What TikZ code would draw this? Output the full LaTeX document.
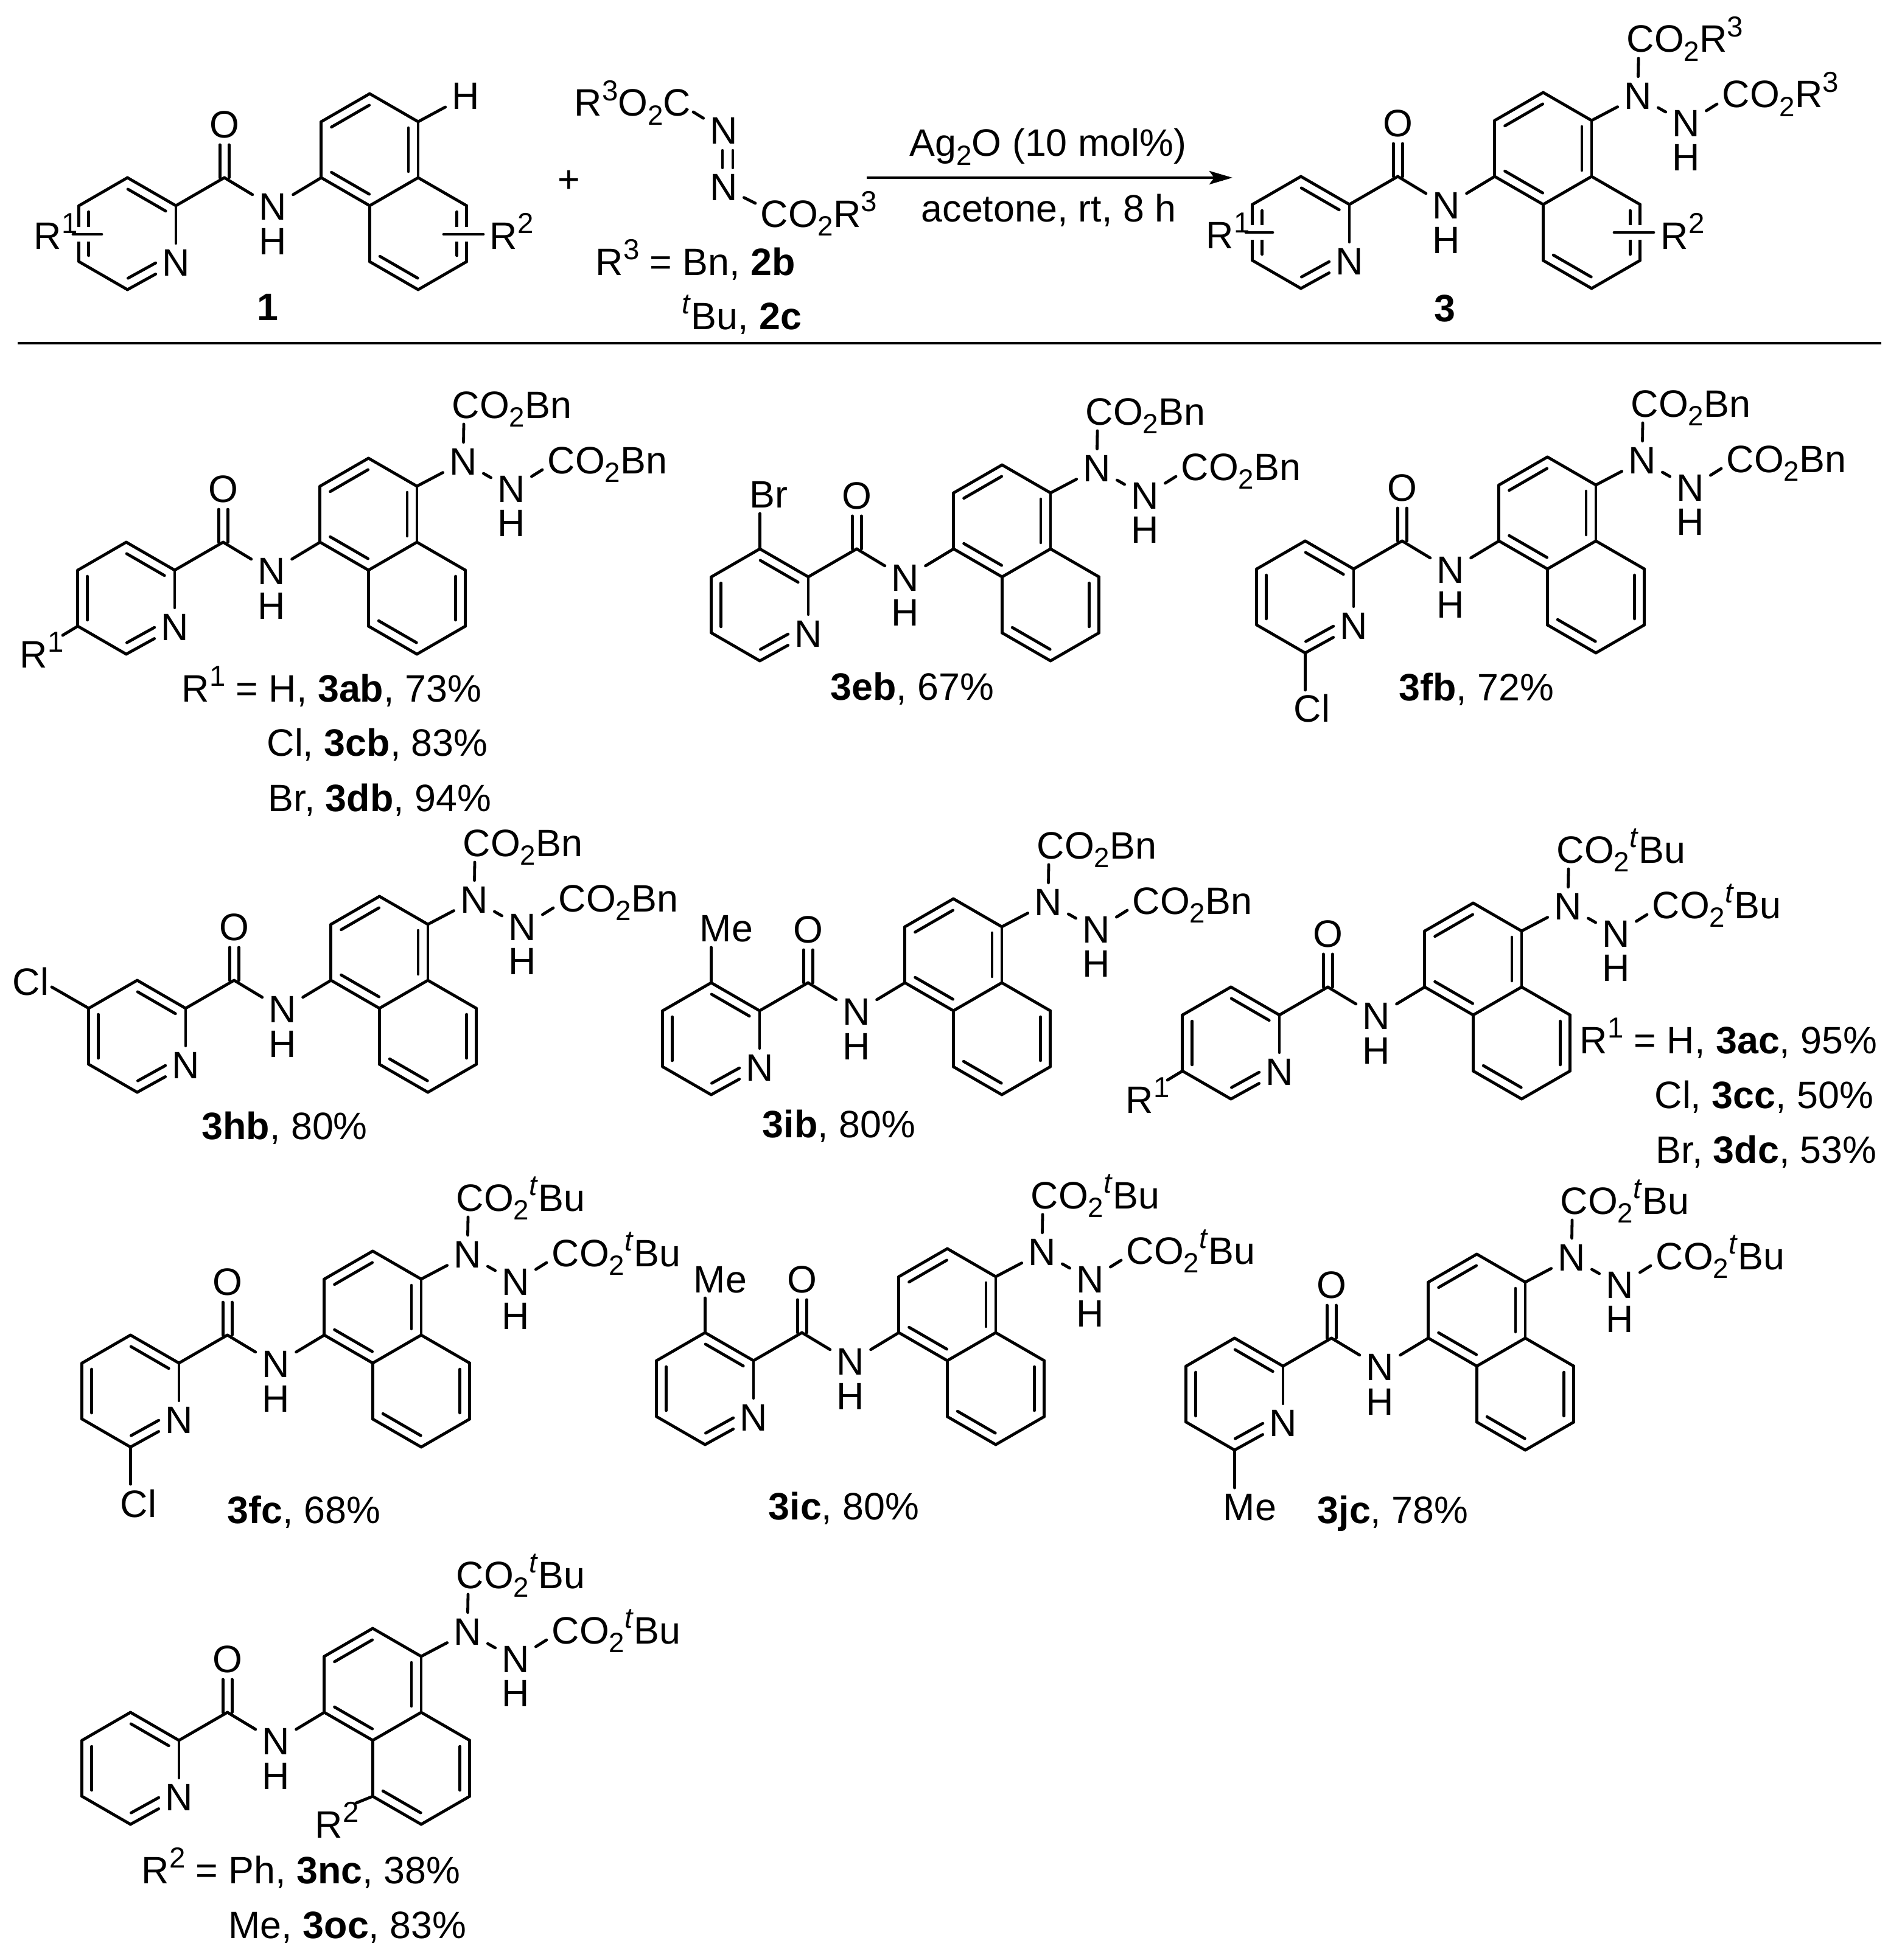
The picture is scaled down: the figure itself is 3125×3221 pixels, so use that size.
\documentclass[tikz,border=0pt]{standalone}
\usepackage{fontspec}
\usepackage{tikz}
\usetikzlibrary{calc,arrows.meta}
\setmainfont{Liberation Sans}

\newcommand{\lowr}[1]{\raisebox{-.23em}{\fontsize{13}{13}\selectfont #1}}
\newcommand{\upr}[1]{\raisebox{.41em}{\fontsize{13.5}{13.5}\selectfont #1}}
\newcommand{\upit}{\upr{\textit{t}}}

\tikzset{
	bond/.style={draw=black,line width=.048cm,line cap=round,line join=round},
	halo/.style={draw=white,line width=.23cm},
	atom/.style={inner sep=.1cm,font=\fontsize{17.85}{20}\selectfont},
	hatom/.style={inner sep=0pt,font=\fontsize{17.85}{20}\selectfont},
	lbl/.style={inner sep=0pt,anchor=base west,font=\fontsize{17.85}{20}\selectfont},
}

% inner line of a ring double bond, clockwise from a to b
\newcommand{\ringdbl}[3][.11]{
	\draw[bond] ($(#2)!#1!(#3)!.16cm!-90:(#3)$) -- ($(#3)!.11!(#2)!.16cm!90:(#2)$);
}

% pyridine, amide and naphthalene, origin at the pyridine carbon next to the amide
\newcommand{\pyamide}{
	\coordinate (c2) at (0,0);
	\coordinate (c3) at (-79.6,-46);
	\coordinate (c4) at (-159.2,0);
	\coordinate (c5) at (-159.2,92);
	\coordinate (c6) at (-79.6,138);
	\node[atom] (n) at (0,94) {N};
	\coordinate (co) at (79.6,-46);
	\node[atom] (o) at (79.6,-133) {O};
	\node[atom,inner ysep=.08cm] (nh) at (159.2,2) {N};
	\node[hatom] (h) at (159.2,59) {H};
	\coordinate (a1) at (238.8,-46);
	\coordinate (a2) at (238.8,-138);
	\coordinate (a3) at (318.4,-184);
	\coordinate (a4) at (398,-138);
	\coordinate (a4a) at (398,-46);
	\coordinate (a8a) at (318.4,0);
	\coordinate (a5) at (477.6,0);
	\coordinate (a6) at (477.6,92);
	\coordinate (a7) at (398,138);
	\coordinate (a8) at (318.4,92);
	\foreach \p/\q in {c2/c3,c3/c4,c4/c5,c5/c6,c6/n,n/c2,c2/co,co/nh,nh/a1,a1/a2,a2/a3,a3/a4,a4/a4a,a4a/a8a,a8a/a1,a4a/a5,a5/a6,a6/a7,a7/a8,a8/a8a}
		\draw[bond] (\p) -- (\q);
	\draw[bond] ($(co)+(-7.5,0)$) -- ($(o.south)+(-7.5,0)$);
	\draw[bond] ($(co)+(7.5,0)$) -- ($(o.south)+(7.5,0)$);
	\ringdbl{c3}{c2}
	\ringdbl{c5}{c4}
	\ringdbl[.32]{n}{c6}
	\ringdbl{a2}{a3}
	\ringdbl{a4}{a4a}
	\ringdbl{a8a}{a1}
	\ringdbl{a5}{a6}
	\ringdbl{a7}{a8}
}

% hydrazine arm on the naphthalene
\newcommand{\hydrazine}[1]{
	\node[atom] (na) at (474,-178) {N};
	\node[atom,inner ysep=.07cm] (nb) at (553,-133) {N};
	\node[hatom] (hb) at (553,-77) {H};
	\node[lbl] (cotop) at (455,-250) {CO\lowr{2}#1};
	\node[lbl] (coside) at (612,-159) {CO\lowr{2}#1};
	\coordinate (cotopend) at (475,-240);
	\coordinate (cosideend) at (604,-165);
	\draw[bond] (a4) -- (na);
	\draw[bond] (na) -- (nb);
	\draw[bond] (na) -- (cotopend);
	\draw[bond] (nb) -- (cosideend);
}

% substituent, text at x,y and bond from ring atom to free end
\newcommand{\subst}[6]{
	\node[lbl] (sub) at (#2,#3) {#1};
	\coordinate (subend) at (#5,#6);
	\draw[bond] (#4) -- (subend);
}

% floating substituent across a ring
\newcommand{\crossbond}[4]{
	\coordinate (#1l) at (#2,#4);
	\coordinate (#1r) at (#3,#4);
	\draw[halo] (#1l) -- (#1r);
	\draw[bond] (#1l) -- (#1r);
}

\begin{document}
\begin{tikzpicture}[x=.01cm,y=-.01cm]
	\useasboundingbox (0,0) rectangle (3125,3221);
	
	% reaction
	\begin{scope}[shift={(289,338)},name prefix=sm-]
		\pyamide
		\node[atom] (hh) at (476,-180) {H};
		\draw[bond] (a4) -- (hh);
		\crossbond{ra}{-169}{-122}{47}
		\crossbond{rb}{440}{505}{47}
		\node[lbl] (rone) at (-234,71) {R\upr{1}};
		\node[lbl] (rtwo) at (515,71) {R\upr{2}};
		\node[atom,font=\fontsize{17.85}{20}\selectfont\bfseries] (smno) at (151,167) {1};
	\end{scope}
	
	\node[atom] (plus) at (935,298) {+};
	\node[lbl] (azol) at (943,191) {R\upr{3}O\lowr{2}C};
	\node[lbl] (azor) at (1249,373) {CO\lowr{2}R\upr{3}};
	\node[atom] (nza) at (1189,215) {N};
	\node[atom] (nzb) at (1189,308) {N};
	\coordinate (azolend) at (1139,184);
	\coordinate (azorend) at (1241,334);
	\draw[bond] (azolend) -- (nza);
	\draw[bond] (nzb) -- (azorend);
	\draw[bond] ($(nza.south)+(-2,0)$) -- ($(nzb.north)+(-2,0)$);
	\draw[bond] ($(nza.south)+(15,0)$) -- ($(nzb.north)+(15,0)$);
	\node[lbl] (rthree) at (978,452) {R\upr{3} = Bn, \textbf{2b}};
	\node[lbl] (tbutwo) at (1120,541) {\upit Bu, \textbf{2c}};
	
	\coordinate (arrs) at (1424,292);
	\coordinate (arre) at (2025,292);
	\draw[bond,line cap=butt,-{Stealth[length=.38cm,width=.22cm,inset=.08cm]}] (arrs) -- (arre);
	\node[lbl] (cond) at (1494,257) {Ag\lowr{2}O (10 mol\%)};
	\node[lbl] (solv) at (1513,364) {acetone, rt, 8 h};
	
	\begin{scope}[shift={(2217,336)},name prefix=pr-]
		\pyamide
		\hydrazine{R\upr{3}}
		\crossbond{ra}{-170}{-126}{46}
		\crossbond{rb}{435}{500}{46}
		\node[lbl] (rone) at (-236,72) {R\upr{1}};
		\node[lbl] (rtwo) at (511,73) {R\upr{2}};
		\node[atom,font=\fontsize{17.85}{20}\selectfont\bfseries] (prno) at (157,171) {3};
	\end{scope}
	
	\coordinate (rulel) at (29,564);
	\coordinate (ruler) at (3091,564);
	\draw[bond,line cap=butt] (rulel) -- (ruler);
	
	% first row
	\begin{scope}[shift={(287,937)},name prefix=ab-]
		\pyamide
		\hydrazine{Bn}
		\subst{R\upr{1}}{-255}{160}{c5}{-184}{107}
	\end{scope}
	\node[lbl] (abyield) at (298,1153) {R\upr{1} = H, \textbf{3ab}, 73\%};
	\node[lbl] (cbyield) at (438,1242) {Cl, \textbf{3cb}, 83\%};
	\node[lbl] (dbyield) at (440,1333) {Br, \textbf{3db}, 94\%};
	
	\begin{scope}[shift={(1328,948)},name prefix=eb-]
		\pyamide
		\hydrazine{Bn}
		\subst{Br}{-97}{-114}{c3}{-79.6}{-104}
	\end{scope}
	\node[lbl] (ebyield) at (1364,1150) {\textbf{3eb}, 67\%};
	
	\begin{scope}[shift={(2224,935)},name prefix=fb-]
		\pyamide
		\hydrazine{Bn}
		\subst{Cl}{-99}{251}{c6}{-79.6}{199}
	\end{scope}
	\node[lbl] (fbyield) at (2298,1151) {\textbf{3fb}, 72\%};
	
	% second row
	\begin{scope}[shift={(305,1657)},name prefix=hb-]
		\pyamide
		\hydrazine{Bn}
		\subst{Cl}{-285}{-22}{c4}{-220}{-35}
	\end{scope}
	\node[lbl] (hbyield) at (331,1872) {\textbf{3hb}, 80\%};
	
	\begin{scope}[shift={(1248,1661)},name prefix=ib-]
		\pyamide
		\hydrazine{Bn}
		\subst{Me}{-99}{-114}{c3}{-79.6}{-104}
	\end{scope}
	\node[lbl] (ibyield) at (1252,1869) {\textbf{3ib}, 80\%};
	
	\begin{scope}[shift={(2102,1668)},name prefix=ac-]
		\pyamide
		\hydrazine{\upit Bu}
		\subst{R\upr{1}}{-253}{161}{c5}{-184}{107}
	\end{scope}
	\node[lbl] (acyield) at (2595,1731) {R\upr{1} = H, \textbf{3ac}, 95\%};
	\node[lbl] (ccyield) at (2718,1821) {Cl, \textbf{3cc}, 50\%};
	\node[lbl] (dcyield) at (2720,1911) {Br, \textbf{3dc}, 53\%};
	
	% third row
	\begin{scope}[shift={(294,2240)},name prefix=fc-]
		\pyamide
		\hydrazine{\upit Bu}
		\subst{Cl}{-97}{253}{c6}{-79.6}{199}
	\end{scope}
	\node[lbl] (fcyield) at (373,2503) {\textbf{3fc}, 68\%};
	
	\begin{scope}[shift={(1238,2236)},name prefix=ic-]
		\pyamide
		\hydrazine{\upit Bu}
		\subst{Me}{-99}{-112}{c3}{-79.6}{-103}
	\end{scope}
	\node[lbl] (icyield) at (1262,2497) {\textbf{3ic}, 80\%};
	
	\begin{scope}[shift={(2108,2245)},name prefix=jc-]
		\pyamide
		\hydrazine{\upit Bu}
		\subst{Me}{-99}{253}{c6}{-79.6}{200}
	\end{scope}
	\node[lbl] (jcyield) at (2164,2503) {\textbf{3jc}, 78\%};
	
	% last row
	\begin{scope}[shift={(294,2860)},name prefix=nc-]
		\pyamide
		\hydrazine{\upit Bu}
		\subst{R\upr{2}}{223}{160}{a8}{291}{103}
	\end{scope}
	\node[lbl] (ncyield) at (232,3095) {R\upr{2} = Ph, \textbf{3nc}, 38\%};
	\node[lbl] (ocyield) at (375,3185) {Me, \textbf{3oc}, 83\%};
	
\end{tikzpicture}
\end{document}
